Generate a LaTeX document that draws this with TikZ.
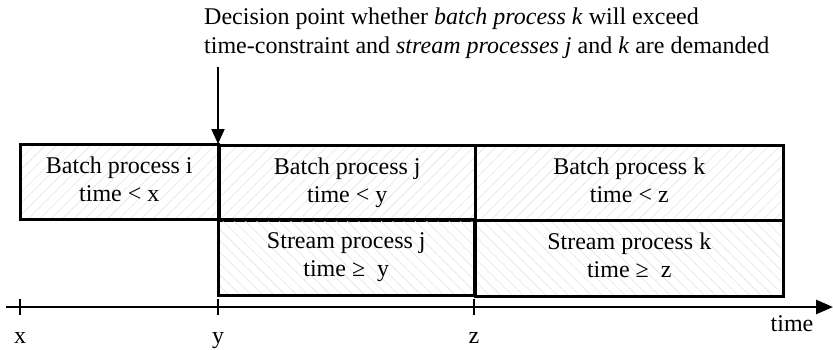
\documentclass[tikz,border=0pt]{standalone}
\usepackage{fontspec}
\setmainfont{Liberation Serif}
\usetikzlibrary{patterns.meta,arrows.meta}
\begin{document}
\begin{tikzpicture}[x=1pt,y=-1pt,
  txt/.style={font=\fontsize{24}{28}\selectfont, inner sep=0pt, align=center},
  procbox/.style={txt, draw=black, line width=2.6pt, rectangle, anchor=north west},
  batchbox/.style={procbox, pattern={Lines[angle=45,distance=8pt,line width=0.6pt]}, pattern color=black!11},
  streambox/.style={procbox, pattern={Lines[angle=-45,distance=8pt,line width=0.6pt]}, pattern color=black!11},
  axisline/.style={line width=2.6pt, -{Triangle[length=17pt,width=14pt]}},
  tickmark/.style={line width=2.6pt},
  pointer/.style={line width=2pt, -{Triangle[length=15pt,width=13pt]}}
]
\useasboundingbox (0,0) rectangle (833,349);

% process boxes
\node[batchbox, minimum width=198pt, minimum height=75pt] (bi) at (20,144) {\strut Batch process i\\\strut time < x};
\node[batchbox, minimum width=256pt, minimum height=75pt] (bj) at (218,144) {\strut Batch process j\\\strut time < y};
\node[batchbox, minimum width=308pt, minimum height=75pt] (bk) at (474,144) {\strut Batch process k\\\strut time < z};
\node[streambox, minimum width=256pt, minimum height=76pt] (sj) at (218,219) {\strut Stream process j\\\strut time ≥\ \ y};
\node[streambox, minimum width=308pt, minimum height=76pt] (sk) at (474,219) {\strut Stream process k\\\strut time ≥\ \ z};

% time axis
\coordinate (axs) at (6,307);
\coordinate (axe) at (833,307);
\draw[axisline] (axs) -- (axe);
\coordinate (tx) at (20,307);
\coordinate (ty) at (218,307);
\coordinate (tz) at (474,307);
\draw[tickmark] ([yshift=-8pt]tx) -- ([yshift=8pt]tx);
\draw[tickmark] ([yshift=-8pt]ty) -- ([yshift=8pt]ty);
\draw[tickmark] ([yshift=-8pt]tz) -- ([yshift=8pt]tz);
\node[txt, anchor=base] (lx) at (20,343) {x};
\node[txt, anchor=base] (ly) at (218,343) {y};
\node[txt, anchor=base] (lz) at (474,343) {z};
\node[txt, anchor=base] (lt) at (792,331) {time};

% decision point
\node[txt, align=left, anchor=north west, font=\fontsize{24}{29}\selectfont] (dec) at (204,8)
  {Decision point whether \textit{batch process k} will exceed\\time-constraint and \textit{stream processes j} and \textit{k} are demanded};
\coordinate (ptop) at (218,67);
\draw[pointer] (ptop) -- (bj.north west);
\end{tikzpicture}
\end{document}
